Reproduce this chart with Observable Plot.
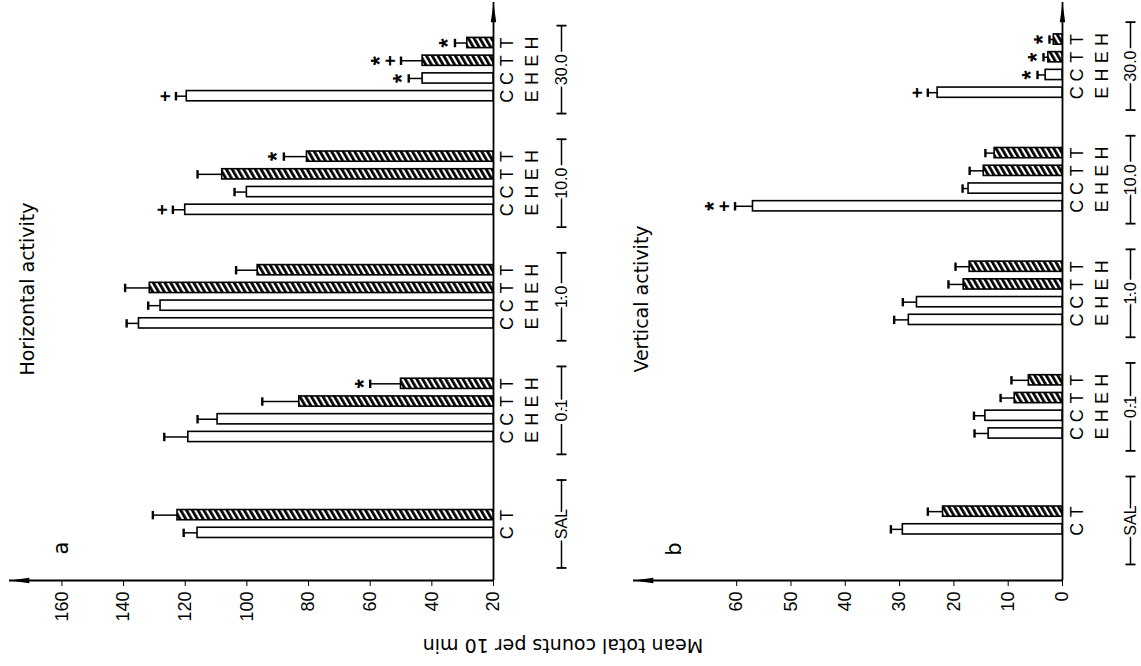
<!DOCTYPE html>
<html><head><meta charset="utf-8">
<script src="https://cdn.jsdelivr.net/npm/d3@7"></script>
<script src="https://cdn.jsdelivr.net/npm/@observablehq/plot@0.6"></script>
<style>
body{margin:0;background:#fff;}
#wrap{position:relative;width:1141px;height:666px;overflow:hidden;background:#fff;}
#wrap svg{position:absolute;top:0;}
.lab{position:absolute;white-space:nowrap;font-family:"DejaVu Sans",sans-serif;color:#000;line-height:1;transform:translate(-50%,-50%) rotate(-90deg);}
</style></head><body><div id="wrap"></div>
<script>
// ---- data ----
const doses = ["SAL", "0.1", "1.0", "10.0", "30.0"];
const barDose = ["SAL","SAL","0.1","0.1","0.1","0.1","1.0","1.0","1.0","1.0","10.0","10.0","10.0","10.0","30.0","30.0","30.0","30.0"];
const barGroup = ["C","T","CE","CH","TE","TH","CE","CH","TE","TH","CE","CH","TE","TH","CE","CH","TE","TH"];
// a: Horizontal activity
const horizMean = [116, 122.5, 119, 109.5, 83, 50, 135, 128, 131.5, 96.5, 120, 100, 108, 80.5, 119.5, 43, 43, 28.5];
const horizErr  = [120.5, 130.5, 126.8, 116, 95, 60, 139, 132, 139.5, 103.5, 124, 104, 116, 88, 123, 47.5, 50, 32.5];
const horizSig  = ["", "", "", "", "", "*", "", "", "", "", "+", "", "", "*", "+", "*", "+*", "*"];
const horizTicks = [20, 40, 60, 80, 100, 120, 140, 160];
// b: Vertical activity
const vertMean = [29.4, 22, 13.6, 14.2, 8.8, 6.2, 28.3, 26.8, 18.2, 17.1, 57, 17.3, 14.5, 12.5, 23, 3.1, 2.6, 1.6];
const vertErr  = [31.6, 24.8, 16.2, 16.3, 11.4, 9.4, 31, 29.4, 21, 19.7, 60.3, 18.4, 17.1, 14.2, 24.8, 4.6, 3.5, 2.4];
const vertSig  = ["", "", "", "", "", "", "", "", "", "", "+*", "", "", "", "+", "*", "*", "*"];
const vertTicks = [0, 10, 20, 30, 40, 50, 60];

// ---- helpers ----
const SLOT = 0.156, HALF = 0.045, BR = 0.387;
const FONT = "'Liberation Sans', Arial, sans-serif";
function rowsOf(mean, err, sig) {
  return barDose.map((dose, i) => {
    const members = barGroup.filter((_, j) => barDose[j] === dose);
    const slot = members.indexOf(barGroup[i]) - (members.length - 1) / 2;
    const g = doses.indexOf(dose);
    return {dose, group: barGroup[i], p: g + slot * SLOT, mean: mean[i], err: err[i], sig: sig[i], hatched: barGroup[i][0] === "T"};
  });
}
const rad = s => Math.sqrt(s / Math.PI);
const vbar = {draw(c, s) { const r = rad(s); c.moveTo(0, -r); c.lineTo(0, r); }};
const hbar = {draw(c, s) { const r = rad(s); c.moveTo(-r, 0); c.lineTo(r, 0); }};
const arrowUp = {draw(c, s) { const r = rad(s); c.moveTo(0, 0); c.lineTo(r * 0.45, r * 3.3); c.lineTo(-r * 0.45, r * 3.3); c.closePath(); }};
const arrowLeft = {draw(c, s) { const r = rad(s); c.moveTo(0, 0); c.lineTo(r * 3.3, -r * 0.45); c.lineTo(r * 3.3, r * 0.45); c.closePath(); }};

function panel(o) {
  const rows = rowsOf(o.mean, o.err, o.sig);
  const markers = rows.flatMap(d => [...d.sig].map((sym, k) => ({p: d.p, err: d.err, sym, k})));
  const doseRows = doses.map((dose, g) => ({dose, g}));
  const yDom = [(o.yc0 - 580) / 113.6, (o.yc0 - 2) / 113.6];
  const hatch = `url(#${o.hatchId})`;
  const txt = {rotate: -90, fontSize: 18, fontFamily: FONT};
  const markMark = (sym, k, dx, size) => Plot.text(markers.filter(d => d.k === k && d.sym === sym),
    {x: "err", y: "p", text: "sym", dx, ...txt, fontSize: size, fontWeight: "bold"});
  const svg = Plot.plot({
    width: o.width, height: 666,
    marginLeft: o.ml, marginRight: o.mr, marginTop: 2, marginBottom: 86,
    style: {background: "transparent", fontFamily: FONT, fontSize: "18px", overflow: "visible"},
    x: {domain: [o.base, o.top], reverse: true, ticks: o.ticks, tickRotate: -90, tickSize: 6, tickPadding: 5, label: null},
    y: {domain: yDom, axis: null},
    marks: [
      Plot.ruleY([{v: yDom[0]}], {y: "v", x1: o.base, x2: o.top, strokeWidth: 1.8}),
      Plot.ruleX([{v: o.base}], {x: "v", strokeWidth: 1.8}),
      Plot.dot([{v: o.top}], {x: "v", y: yDom[0], symbol: arrowLeft, r: 6, fill: "black", stroke: "none"}),
      Plot.dot([{v: o.base}], {x: "v", y: yDom[1], symbol: arrowUp, r: 6, fill: "black", stroke: "none"}),
      Plot.ruleY(rows, {y: "p", x1: "mean", x2: "err", strokeWidth: 1.5}),
      Plot.dot(rows, {x: "err", y: "p", symbol: vbar, r: 4.2, stroke: "black", strokeWidth: 2.4, fill: "none"}),
      Plot.rect(rows.filter(d => !d.hatched), {x1: o.base, x2: "mean", y1: d => d.p - HALF, y2: d => d.p + HALF, fill: "white", stroke: "black", strokeWidth: 1.6}),
      Plot.rect(rows.filter(d => d.hatched), {x1: o.base, x2: "mean", y1: d => d.p - HALF, y2: d => d.p + HALF, fill: hatch, stroke: "black", strokeWidth: 1.6}),
      markMark("+", 0, -11, 19),
      markMark("*", 0, -6, 23),
      markMark("+", 1, -26, 19),
      markMark("*", 1, -20, 23),
      Plot.text(rows, {x: o.base, y: "p", text: d => d.group[0], dx: o.off1, ...txt}),
      Plot.text(rows.filter(d => d.group.length > 1), {x: o.base, y: "p", text: d => d.group[1], dx: o.off2, ...txt}),
      Plot.ruleX(doseRows, {x: o.base, y1: d => d.g - BR, y2: d => d.g + BR, dx: o.off3, strokeWidth: 1.5}),
      Plot.dot(doseRows, {x: o.base, y: d => d.g - BR, dx: o.off3, symbol: hbar, r: 5, stroke: "black", strokeWidth: 1.8, fill: "none"}),
      Plot.dot(doseRows, {x: o.base, y: d => d.g + BR, dx: o.off3, symbol: hbar, r: 5, stroke: "black", strokeWidth: 1.8, fill: "none"}),
      Plot.text(doseRows, {x: o.base, y: "g", text: "dose", dx: o.off3, ...txt, fontSize: 16, stroke: "white", strokeWidth: 6, fill: "black"})
    ]
  });
  const defs = document.createElementNS("http://www.w3.org/2000/svg", "defs");
  defs.innerHTML = `<pattern id="${o.hatchId}" patternUnits="userSpaceOnUse" width="5" height="10" patternTransform="rotate(-30)"><rect width="5" height="10" fill="white"/><rect width="2.8" height="10" fill="black"/></pattern>`;
  svg.insertBefore(defs, svg.firstChild);
  svg.style.left = o.left + "px";
  return svg;
}

const wrap = document.getElementById("wrap");
wrap.appendChild(panel({mean: horizMean, err: horizErr, sig: horizSig, ticks: horizTicks, base: 20, top: 177,
  width: 600, left: 0, ml: 9, mr: 107, yc0: 523.5, hatchId: "hatchA", off1: 14, off2: 39, off3: 68}));
wrap.appendChild(panel({mean: vertMean, err: vertErr, sig: vertSig, ticks: vertTicks, base: 0, top: 79,
  width: 521, left: 620, ml: 13, mr: 79, yc0: 520, hatchId: "hatchB", off1: 15, off2: 40, off3: 68}));

function label(text, x, y, size, rot) {
  const d = document.createElement("div");
  d.className = "lab";
  d.textContent = text;
  d.style.left = x + "px"; d.style.top = y + "px"; d.style.fontSize = size + "px";
  if (rot !== undefined) d.style.transform = `translate(-50%,-50%) rotate(${rot}deg)`;
  wrap.appendChild(d);
}
label("Horizontal activity", 27, 289, 19);
label("a", 61, 548, 21);
label("Vertical activity", 641, 299, 19);
label("b", 674, 549, 21);
label("Mean total counts per 10 min", 563, 645, 19, 180);
</script>
</body></html>
